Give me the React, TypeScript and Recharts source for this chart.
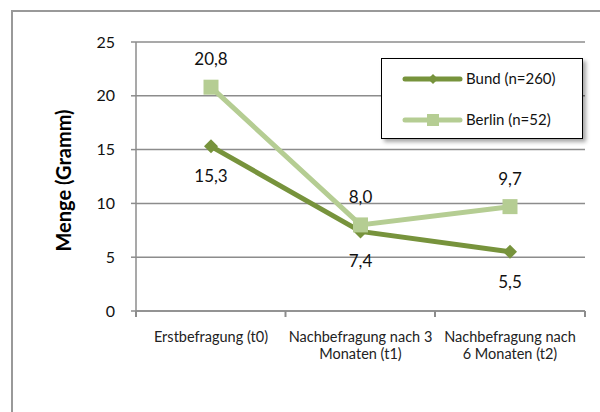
import React from "react";
import { LineChart, Line, XAxis, YAxis, CartesianGrid, Legend, LabelList, Label } from "recharts";

const categories = ["Erstbefragung (t0)", "Nachbefragung nach 3\nMonaten (t1)", "Nachbefragung nach\n6 Monaten (t2)"];
const bund = [15.3, 7.4, 5.5];
const berlin = [20.8, 8.0, 9.7];
const yTicks = [0, 5, 10, 15, 20, 25];
const seriesNames = ["Bund (n=260)", "Berlin (n=52)"];
const yTitle = "Menge (Gramm)";

const BUND = "#77933C";
const BERLIN = "#B5CD93";
const GRID = "#8c8c8c";
const FONT = "Lato, 'Open Sans', sans-serif";
const HALF_BAND = 75;

const data = categories.map((c, i) => ({ cat: c, bund: bund[i], berlin: berlin[i] }));

const fmt = (v: any) => String(Number(v).toFixed(1)).replace(".", ",");

const Diamond = (props: any) => {
  const { cx, cy } = props;
  if (cx == null || cy == null) return null;
  const r = 7;
  return <path d={`M${cx},${cy - r}L${cx + r},${cy}L${cx},${cy + r}L${cx - r},${cy}Z`} fill={BUND} />;
};
const Square = (props: any) => {
  const { cx, cy } = props;
  if (cx == null || cy == null) return null;
  const s = 15;
  return <rect x={cx - s / 2} y={cy - s / 2} width={s} height={s} fill={BERLIN} />;
};

const XTick = (props: any) => {
  const { x, y, payload, index } = props;
  const n = categories.length;
  const lines = String(payload.value).split("\n");
  return (
    <g>
      <path d={`M${x - HALF_BAND},${y}V${y + 6}`} stroke={GRID} strokeWidth={2} fill="none" />
      {index === n - 1 && <path d={`M${x + HALF_BAND},${y}V${y + 6}`} stroke={GRID} strokeWidth={2} fill="none" />}
      <text x={x} y={y} textAnchor="middle" fill="#222" fontSize={14.5} fontFamily={FONT}>
        {lines.map((l, i) => (
          <tspan key={i} x={x} y={y + 31 + i * 17}>{l}</tspan>
        ))}
      </text>
    </g>
  );
};

const YTitle = (props: any) => {
  const vb = props.viewBox || {};
  const x = vb.x - 13;
  const y = vb.y + vb.height / 2 + 4;
  return (
    <text x={x} y={y} transform={`rotate(-90 ${x} ${y})`} textAnchor="middle" dominantBaseline="central"
      fontSize={20} fontWeight={700} fontFamily={FONT} fill="#000">{yTitle}</text>
  );
};

const LegendContent = () => (
  <svg width={202} height={81}>
    <line x1={23} x2={78} y1={20} y2={20} stroke={BUND} strokeWidth={5} strokeLinecap="round" />
    <path d="M51,15L56,20L51,25L46,20Z" fill={BUND} />
    <text x={84} y={25} fontSize={15} fontFamily={FONT} fill="#111">{seriesNames[0]}</text>
    <line x1={23} x2={78} y1={61} y2={61} stroke={BERLIN} strokeWidth={5} strokeLinecap="round" />
    <rect x={45} y={55} width={12} height={12} fill={BERLIN} />
    <text x={84} y={66} fontSize={15} fontFamily={FONT} fill="#111">{seriesNames[1]}</text>
  </svg>
);

export default function App() {
  return (
    <div style={{ position: "fixed", left: 0, top: 0, width: 600, height: 412, overflow: "hidden", background: "#fff" }}>
      <div style={{ position: "absolute", left: 11, top: 10, width: 620, height: 440, border: "2px solid #999", boxSizing: "border-box" }} />
      <div style={{ position: "absolute", left: 0, top: 0 }}>
        <LineChart width={600} height={412} data={data} margin={{ top: 42, right: 15, bottom: 41, left: 76 }}>
          <CartesianGrid vertical={false} stroke={GRID} strokeWidth={1.5} />
          <XAxis
            dataKey="cat"
            type="category"
            height={60}
            padding={{ left: HALF_BAND, right: HALF_BAND }}
            axisLine={{ stroke: GRID, strokeWidth: 1.5 }}
            tickLine={false}
            tickSize={0}
            tickMargin={0}
            tick={<XTick />}
            interval={0}
          />
          <YAxis
            width={60}
            domain={[0, 25]}
            ticks={yTicks}
            axisLine={{ stroke: GRID, strokeWidth: 1.5 }}
            tickLine={{ stroke: GRID, strokeWidth: 1.5 }}
            tickSize={5}
            tickMargin={16}
            tick={{ fill: "#111", fontSize: 16, fontFamily: FONT }}
          >
            <Label content={<YTitle />} />
          </YAxis>
          <Legend layout="horizontal" verticalAlign="middle" align="center" content={<LegendContent />}
            wrapperStyle={{ position: "absolute", left: 381, top: 58, width: 202, height: 81, border: "1.5px solid #000", background: "#fff", boxShadow: "3px 3px 4px rgba(0,0,0,0.35)", boxSizing: "border-box" }} />
          <Line dataKey="bund" name={seriesNames[0]} stroke={BUND} strokeWidth={5} dot={<Diamond />} activeDot={false} isAnimationActive={false}>
            <LabelList dataKey="bund" position="bottom" offset={24} formatter={fmt} style={{ fontSize: 17, fontFamily: FONT, fill: "#111" }} />
          </Line>
          <Line dataKey="berlin" name={seriesNames[1]} stroke={BERLIN} strokeWidth={5} dot={<Square />} activeDot={false} isAnimationActive={false}>
            <LabelList dataKey="berlin" position="top" offset={22} formatter={fmt} style={{ fontSize: 17, fontFamily: FONT, fill: "#111" }} />
          </Line>
        </LineChart>
      </div>
    </div>
  );
}
